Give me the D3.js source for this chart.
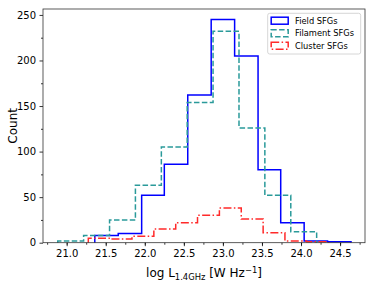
<!DOCTYPE html>
<html>
<head>
<meta charset="utf-8">
<script src="https://cdn.jsdelivr.net/npm/d3@7"></script>
<style>
  html, body { margin: 0; padding: 0; background: #fff; }
  svg { display: block; font-family: 'DejaVu Sans', sans-serif; }
</style>
</head>
<body>
<div id="chart"></div>
<script>
// bin edges and counts
const fieldEdges = [21.36, 21.66, 21.96, 22.25, 22.55, 22.85, 23.15, 23.45, 23.74, 24.04, 24.34, 24.64];
const fieldCounts = [8, 10, 52, 86, 162, 245, 205, 80, 22, 2, 1];

const filamentEdges = [20.886, 21.217, 21.549, 21.880, 22.212, 22.543, 22.874, 23.206, 23.537, 23.869, 24.20];
const filamentCounts = [2, 8, 25, 63, 105, 154, 232, 126, 52, 12];

const clusterEdges = [21.277, 21.557, 21.836, 22.116, 22.396, 22.675, 22.955, 23.235, 23.515, 23.794, 24.074, 24.354];
const clusterCounts = [5, 4, 7, 15, 22, 30, 38, 26, 11, 2, 1];

const seriesNames = ['Field SFGs', 'Filament SFGs', 'Cluster SFGs'];
const xTicks = [21.0, 21.5, 22.0, 22.5, 23.0, 23.5, 24.0, 24.5];
const yTicks = [0, 50, 100, 150, 200, 250];

const width = 374, height = 286;
const margin = { top: 9, right: 9, bottom: 43.3, left: 43 };

const series = [
  { name: seriesNames[0], edges: fieldEdges, counts: fieldCounts, color: '#0000ff', dash: null },
  { name: seriesNames[1], edges: filamentEdges, counts: filamentCounts, color: '#2a9a9a', dash: '5.5,2.4' },
  { name: seriesNames[2], edges: clusterEdges, counts: clusterCounts, color: '#ff2a2a', dash: '8,2.4,1.5,2.4' }
];

const svg = d3.select('#chart').append('svg')
  .attr('width', width)
  .attr('height', height);

const x = d3.scaleLinear().domain([20.697, 24.819]).range([margin.left, width - margin.right]);
const y = d3.scaleLinear().domain([0, 256.5]).range([height - margin.bottom, margin.top]);

// step outlines like histtype='step'
const line = d3.line().x(d => x(d[0])).y(d => y(d[1]));

series.forEach(s => {
  let pts = [[s.edges[0], 0]];
  s.counts.forEach((c, i) => {
    pts.push([s.edges[i], c]);
    pts.push([s.edges[i + 1], c]);
  });
  pts.push([s.edges[s.edges.length - 1], 0]);

  svg.append('path')
    .attr('d', line(pts))
    .attr('fill', 'none')
    .attr('stroke', s.color)
    .attr('stroke-width', 1.5)
    .attr('stroke-dasharray', s.dash)
    .attr('stroke-linejoin', 'miter');
});

// axes
const xAxis = svg.append('g')
  .attr('transform', `translate(0, ${height - margin.bottom})`)
  .call(d3.axisBottom(x).tickValues(xTicks).tickFormat(d3.format('.1f')).tickSize(3.5).tickPadding(3.5));
const xMinor = svg.append('g')
  .attr('transform', `translate(0, ${height - margin.bottom})`)
  .call(d3.axisBottom(x).tickValues(d3.range(20.75, 24.8, 0.25)).tickFormat('').tickSize(2));

const yAxis = svg.append('g')
  .attr('transform', `translate(${margin.left}, 0)`)
  .call(d3.axisLeft(y).tickValues(yTicks).tickSize(3.5).tickPadding(3.5));
const yMinor = svg.append('g')
  .attr('transform', `translate(${margin.left}, 0)`)
  .call(d3.axisLeft(y).tickValues(d3.range(25, 256, 50)).tickFormat('').tickSize(2));

[xAxis, xMinor, yAxis, yMinor].forEach(g => {
  g.select('.domain').remove();
  g.selectAll('line').attr('stroke', '#000').attr('stroke-width', 0.8);
  g.selectAll('text').attr('font-size', 10).attr('fill', '#000').attr('font-family', 'DejaVu Sans');
});

// frame
svg.append('rect')
  .attr('x', margin.left)
  .attr('y', margin.top)
  .attr('width', width - margin.left - margin.right)
  .attr('height', height - margin.top - margin.bottom)
  .attr('fill', 'none')
  .attr('stroke', '#333')
  .attr('stroke-width', 0.8);

// axis labels
const xl = svg.append('text')
  .attr('x', (margin.left + width - margin.right) / 2)
  .attr('y', 277)
  .attr('text-anchor', 'middle')
  .attr('font-size', 12);
xl.append('tspan').text('log L');
xl.append('tspan').attr('font-size', 8.4).attr('dy', 2.5).text('1.4GHz');
xl.append('tspan').attr('dy', -2.5).text(' [W Hz');
xl.append('tspan').attr('font-size', 8.4).attr('dy', -4.5).text('\u22121');
xl.append('tspan').attr('dy', 4.5).text(']');

svg.append('text')
  .attr('transform', `translate(16.5, ${(margin.top + height - margin.bottom) / 2}) rotate(-90)`)
  .attr('text-anchor', 'middle')
  .attr('font-size', 12)
  .text('Count');

// legend
const legend = svg.append('g').attr('transform', 'translate(267.7, 13.3)');
legend.append('rect')
  .attr('width', 93)
  .attr('height', 40.7)
  .attr('rx', 2)
  .attr('fill', '#fff')
  .attr('fill-opacity', 0.8)
  .attr('stroke', '#ccc')
  .attr('stroke-width', 0.8);

series.forEach((s, i) => {
  const cy = 7.4 + i * 12.5;
  legend.append('rect')
    .attr('x', 3.5)
    .attr('y', cy - 3.5)
    .attr('width', 17)
    .attr('height', 7)
    .attr('fill', 'none')
    .attr('stroke', s.color)
    .attr('stroke-width', 1.5)
    .attr('stroke-dasharray', s.dash);
  legend.append('text')
    .attr('x', 27.3)
    .attr('y', cy + 3)
    .attr('font-size', 8.3)
    .text(s.name);
});
</script>
</body>
</html>
